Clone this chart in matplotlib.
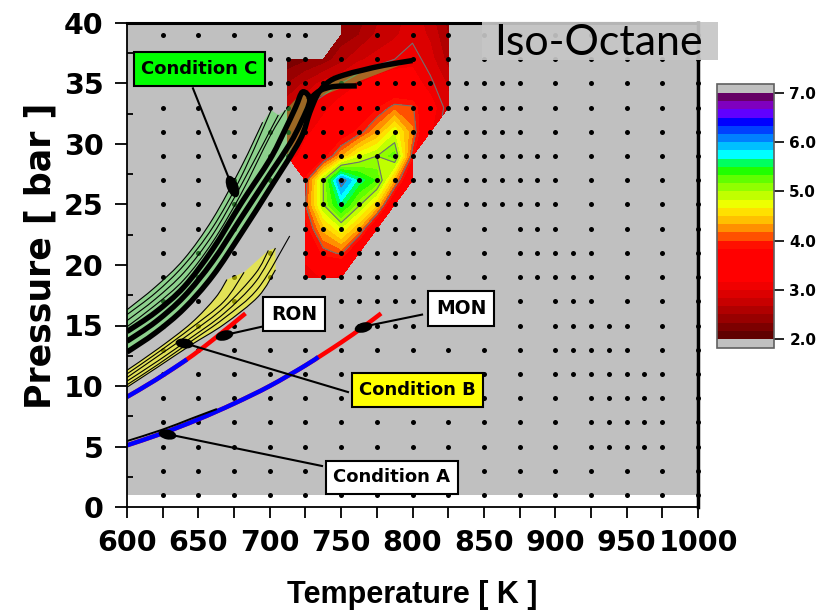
import numpy as np
import matplotlib
matplotlib.use("Agg")
import matplotlib.pyplot as plt
from matplotlib.colors import ListedColormap
from matplotlib.path import Path
from matplotlib.transforms import Affine2D
from matplotlib.patches import Rectangle, PathPatch
from matplotlib.ticker import MultipleLocator, FormatStrFormatter
from matplotlib.font_manager import FontProperties

nan = np.nan

# ---- ignition map (contour) ----
map_T = [712.5, 725, 737.5, 750, 762.5, 775, 787.5, 800, 812.5, 825]
map_P = [19, 21, 23, 25, 27, 29, 31, 33, 35, 37, 39, 41]
map_val = [
    [nan, 3.0, 3.2, 3.1, nan, nan, nan, nan, nan, nan],
    [nan, 3.3, 3.9, 4.05, 3.3, nan, nan, nan, nan, nan],
    [nan, 3.7, 4.4, 4.8, 4.3, 3.3, nan, nan, nan, nan],
    [nan, 4.0, 5.0, 5.6, 5.05, 4.5, 3.3, nan, nan, nan],
    [nan, 3.9, 5.0, 6.15, 5.6, 5.3, 4.3, 3.2, nan, nan],
    [3.0, 3.3, 3.7, 4.3, 4.8, 5.0, 5.25, 3.9, nan, nan],
    [2.9, 3.1, 3.3, 3.6, 3.9, 4.3, 4.8, 4.2, 3.2, nan],
    [2.8, 3.0, 3.1, 3.3, 3.5, 3.8, 4.1, 4.05, 3.3, 2.9],
    [2.5, 2.7, 2.9, 3.0, 3.15, 3.3, 3.4, 3.3, 3.05, 2.8],
    [2.2, 2.3, 2.4, 2.6, 2.8, 2.9, 3.0, 3.1, 2.9, 2.6],
    [nan, nan, nan, 2.4, 2.5, 2.7, 2.8, 2.95, 2.8, 2.5],
    [nan, nan, nan, 2.3, 2.4, 2.6, 2.7, 2.9, 2.7, 2.4],
]
levels = np.linspace(2.0, 7.0, 31)
level_colors = [
    "#600000", "#7c0000", "#980000", "#b00000", "#c80000", "#dc0000",
    "#f00000", "#ff0000", "#ff0000", "#ff0000", "#ff0000", "#ff1000",
    "#ff5000", "#ff9000", "#ffc000", "#ffe000", "#eeff00", "#c0ff00",
    "#90ff00", "#60ff00", "#20ff00", "#00ff60", "#00ffff", "#00c0ff",
    "#0080ff", "#0040ff", "#0000ff", "#6000ff", "#7f00bf", "#660066",
]

# ---- simulation grid points ----
LEFT = [625, 650, 675]
FINE_A = [700, 712.5, 725, 737.5, 750, 762.5, 775, 787.5, 800, 812.5, 825,
          837.5, 850, 862.5, 875, 900, 925, 950, 975, 1000]
FINE_B = [700, 712.5, 725, 737.5, 750, 762.5, 775, 787.5, 800, 812.5, 825,
          837.5, 850, 862.5, 875, 887.5, 900, 925, 950, 975, 1000]
COARSE_LOW = [700, 725, 750, 775, 800, 825, 850, 875, 900, 925, 937.5, 950,
              962.5, 975, 1000]
COARSE_BASE = [700, 725, 750, 775, 800, 825, 850, 875, 900, 925, 950, 975, 1000]
dot_rows = {
    39: LEFT + [700, 712.5, 725, 775, 800, 825, 850, 875, 900, 925, 950, 975, 1000],
    37: LEFT + [700, 712.5, 725, 750, 775, 800, 825, 850, 875, 900, 925, 950, 975, 1000],
    35: LEFT + FINE_A,
    33: LEFT + [700, 712.5, 737.5, 750, 762.5, 775, 800, 812.5, 825, 837.5, 850,
                862.5, 875, 900, 925, 950, 975, 1000],
    31: LEFT + FINE_A,
    29: LEFT + FINE_B,
    27: LEFT + FINE_B,
    25: LEFT + FINE_B,
    23: LEFT + [700, 725, 737.5, 750, 762.5, 775, 787.5, 800, 825, 850, 875,
                887.5, 900, 925, 950, 975, 1000],
    21: LEFT + [700, 725, 737.5, 750, 762.5, 775, 787.5, 800, 825, 850, 875,
                887.5, 900, 912.5, 925, 950, 975, 1000],
    19: LEFT + [700, 725, 737.5, 750, 762.5, 775, 787.5, 800, 825, 850, 875,
                887.5, 900, 912.5, 925, 950, 975, 1000],
    17: LEFT + [700, 712.5, 725, 737.5, 750, 762.5, 775, 787.5, 800, 875, 900,
                912.5, 925, 950, 975, 1000],
    15: LEFT + [700, 712.5, 725, 737.5, 750, 762.5, 775, 787.5, 800, 875, 900,
                912.5, 925, 937.5, 950, 975, 1000],
    13: LEFT + [700, 725, 750, 775, 800, 825, 850, 875, 900, 912.5, 925, 937.5,
                950, 975, 1000],
    11: LEFT + [700, 725, 750, 775, 800, 825, 850, 875, 900, 912.5, 925, 937.5,
                950, 962.5, 975, 1000],
    9: LEFT + COARSE_LOW,
    7: LEFT + COARSE_LOW,
    5: LEFT + COARSE_LOW,
    3: LEFT + COARSE_BASE,
    1: LEFT + COARSE_BASE,
}

# ---- Condition C (green band + thick traces) ----
gl1_T = [600, 620, 640, 660, 680, 695]
gl1_P = [16.3, 18.2, 20.5, 23.8, 28.1, 31.8]
gl2_T = [600, 620, 640, 660, 680, 701]
gl2_P = [15.9, 17.7, 20.0, 23.1, 27.3, 32.8]
gl3_T = [600, 620, 640, 660, 680, 706]
gl3_P = [15.4, 17.2, 19.4, 22.5, 26.6, 32.4]
gl4_T = [600, 620, 640, 660, 680, 700, 711]
gl4_P = [14.9, 16.7, 18.8, 21.9, 25.9, 30.6, 32.8]
tk1_T = [600, 620, 640, 660, 680, 700, 710, 718, 723]
tk1_P = [14.5, 16.1, 18.2, 21.3, 25.1, 28.7, 31.0, 33.0, 34.3]
tk2_T = [600, 620, 640, 660, 680, 700, 714, 722, 728]
tk2_P = [13.7, 15.3, 17.4, 20.3, 23.9, 27.5, 30.0, 31.8, 33.6]
tk3_T = [600, 620, 640, 660, 680, 700, 721, 728, 734, 742, 752, 765, 780, 800]
tk3_P = [12.8, 14.4, 16.4, 19.1, 22.6, 26.3, 30.3, 32.6, 34.2, 35.2, 35.7, 36.1, 36.5, 36.9]
seg_T = [727, 735, 745, 761]
seg_P = [33.6, 34.4, 34.75, 34.8]

# ---- Condition B (yellow band) ----
yl1_T = [600, 622, 645, 662, 670]
yl1_P = [11.3, 13.1, 15.2, 17.3, 18.8]
yl2_T = [600, 622, 645, 668, 682]
yl2_P = [11.0, 12.8, 14.8, 17.0, 19.4]
yl3_T = [600, 622, 645, 668, 690, 699]
yl3_P = [10.7, 12.5, 14.4, 16.5, 19.3, 21.2]
yl4_T = [600, 622, 645, 668, 690, 704]
yl4_P = [10.4, 12.1, 14.0, 16.0, 18.6, 21.4]
yl5_T = [600, 622, 645, 668, 692, 704]
yl5_P = [9.9, 11.6, 13.4, 15.1, 17.4, 19.6]
ylx_T = [600, 622, 645, 668, 692, 714]
ylx_P = [10.1, 11.8, 13.7, 15.6, 18.1, 22.4]

# ---- RON / MON compression lines ----
ron_T = [600, 620, 642, 660, 683]
ron_P = [9.1, 10.5, 12.2, 13.8, 16.0]
ron_blue_T = [600, 620, 642]
ron_blue_P = [9.1, 10.5, 12.2]
mon_T = [600, 625, 650, 675, 700, 725, 750, 765, 778]
mon_P = [5.1, 6.1, 7.25, 8.55, 10.0, 11.7, 13.6, 14.85, 16.0]
mon_blue_T = [600, 625, 650, 675, 700, 725, 734]
mon_blue_P = [5.1, 6.1, 7.25, 8.55, 10.0, 11.7, 12.4]
ca_T = [600, 625, 645, 663]
ca_P = [5.45, 6.4, 7.3, 8.1]

# ---- annotations ----
ann_text = ["Condition C", "RON", "MON", "Condition B", "Condition A"]
ann_box_T = [650.8, 717, 834, 803.5, 785.6]
ann_box_P = [36.2, 15.95, 16.4, 9.67, 2.44]
ann_pt_T = [673.6, 668, 765.3, 640, 628]
ann_pt_P = [26.5, 14.2, 14.9, 13.55, 6.03]
ann_end_T = [646.2, 705.8, 806.7, 754.8, 736.6]
ann_end_P = [34.6, 15.2, 15.9, 9.5, 3.39]
ann_face = ["#00ff00", "white", "white", "#ffff00", "white"]
ann_size = [13, 13.5, 13.5, 13, 13]
ann_angle = [112, 15, 15, -8, -12]

GRAY = "#c0c0c0"
GREEN = (80 / 255, 230 / 255, 80 / 255)


def smooth_segments(T, P):
    # Catmull-Rom through the read points, drawn as cubic Bezier pieces
    pts = np.column_stack([T, P]).astype(float)
    n = len(pts)
    verts, codes = [], []
    for i in range(n - 1):
        p0 = pts[max(i - 1, 0)]
        p1, p2 = pts[i], pts[i + 1]
        p3 = pts[min(i + 2, n - 1)]
        verts += [p1 + (p2 - p0) / 6, p2 - (p3 - p1) / 6, p2]
        codes += [Path.CURVE4] * 3
    return pts[0], verts, codes


def smooth_line(ax, T, P, **kw):
    start, verts, codes = smooth_segments(T, P)
    path = Path([start] + verts, [Path.MOVETO] + codes)
    ax.add_patch(PathPatch(path, fill=False, **kw))


def smooth_strip(ax, ta, pa, tb, pb, color, alpha):
    sa, va, ca = smooth_segments(ta, pa)
    sb, vb, cb_ = smooth_segments(tb[::-1], pb[::-1])
    verts = [sa] + va + [sb] + vb + [sa]
    codes = [Path.MOVETO] + ca + [Path.LINETO] + cb_ + [Path.CLOSEPOLY]
    ax.add_patch(PathPatch(Path(verts, codes), facecolor=color, alpha=alpha,
                           edgecolor="none", zorder=3))


fig = plt.figure(figsize=(8.29, 6.15), dpi=100, facecolor="white")
ax = fig.add_axes([127 / 829, 1 - 507 / 615, 571 / 829, 484 / 615])
ax.set_xlim(600, 1000)
ax.set_ylim(0, 40)
ax.axhspan(1, 40, color=GRAY, zorder=0, lw=0)

# contour map
cmap = ListedColormap(level_colors)
cmap.set_under(GRAY)
cmap.set_over(GRAY)
TT, PP = np.meshgrid(map_T, map_P)
Z = np.ma.masked_invalid(np.array(map_val))
cf = ax.contourf(TT, PP, Z, levels=levels, cmap=cmap, extend="both", zorder=1)
ax.contour(TT, PP, Z, levels=[3, 4, 5, 6], colors="#707070", linewidths=0.8, zorder=1.5)

# grid dots
for p, temps in dot_rows.items():
    ax.plot(temps, [p] * len(temps), "o", color="black", ms=3.6, mew=0,
            zorder=2, clip_on=False)

# Condition C band
green_lines = [(gl1_T, gl1_P), (gl2_T, gl2_P), (gl3_T, gl3_P), (gl4_T, gl4_P),
               (tk1_T, tk1_P), (tk2_T, tk2_P), (tk3_T, tk3_P)]
for (ta, pa), (tb, pb) in zip(green_lines[:-1], green_lines[1:]):
    smooth_strip(ax, ta, pa, tb, pb, GREEN, 0.45)
for t, p in green_lines[:4]:
    smooth_line(ax, t, p, edgecolor="black", lw=0.8, zorder=3.5)
smooth_line(ax, tk1_T + tk2_T[::-1], tk1_P + tk2_P[::-1], edgecolor="black",
            lw=3.9, capstyle="butt", zorder=4)
smooth_line(ax, tk3_T, tk3_P, edgecolor="black", lw=3.9, zorder=4)
smooth_line(ax, seg_T, seg_P, edgecolor="black", lw=3.9, capstyle="butt", zorder=4)

# Condition B band
yellow_lines = [(yl1_T, yl1_P), (yl2_T, yl2_P), (yl3_T, yl3_P), (yl4_T, yl4_P),
                (yl5_T, yl5_P)]
for (ta, pa), (tb, pb) in zip(yellow_lines[:-1], yellow_lines[1:]):
    smooth_strip(ax, ta, pa, tb, pb, "#ffff00", 0.55)
for t, p in yellow_lines + [(ylx_T, ylx_P)]:
    smooth_line(ax, t, p, edgecolor="black", lw=0.8, zorder=3.5)

# RON / MON lines
smooth_line(ax, ron_T, ron_P, edgecolor="#ff0000", lw=3.2, capstyle="butt", zorder=4)
smooth_line(ax, ron_blue_T, ron_blue_P, edgecolor="#0000ff", lw=3.2, capstyle="butt", zorder=4.1)
smooth_line(ax, mon_T, mon_P, edgecolor="#ff0000", lw=3.2, capstyle="butt", zorder=4)
smooth_line(ax, mon_blue_T, mon_blue_P, edgecolor="#0000ff", lw=3.2, capstyle="butt", zorder=4.1)
smooth_line(ax, ca_T, ca_P, edgecolor="black", lw=1.4, zorder=4.2)

# annotations
for i, label in enumerate(ann_text):
    ax.plot([ann_pt_T[i], ann_end_T[i]], [ann_pt_P[i], ann_end_P[i]],
            color="black", lw=1.5, zorder=5)
    aspect = 0.5 if i == 0 else 0.55
    marker = Path.unit_circle().transformed(
        Affine2D().scale(1, aspect).rotate_deg(ann_angle[i]))
    ax.plot(ann_pt_T[i], ann_pt_P[i], marker=marker, ms=16 if i == 0 else 13,
            color="black", mew=0, zorder=5)
    ax.text(ann_box_T[i], ann_box_P[i], label, ha="center", va="center",
            fontsize=ann_size[i], fontweight="bold", family="DejaVu Sans", zorder=6,
            bbox=dict(boxstyle="square,pad=0.42", facecolor=ann_face[i],
                      edgecolor="black", lw=1.5))

# axes styling
ax.xaxis.set_major_locator(MultipleLocator(50))
ax.xaxis.set_minor_locator(MultipleLocator(25))
ax.yaxis.set_major_locator(MultipleLocator(5))
ax.yaxis.set_minor_locator(MultipleLocator(2.5))
ax.tick_params(axis="x", which="major", direction="out", length=8, width=1.3, pad=8)
ax.tick_params(axis="y", which="major", direction="out", length=9, width=1.3, pad=8)
ax.tick_params(axis="x", which="minor", direction="out", length=8, width=1.3)
ax.tick_params(axis="y", which="minor", direction="in", length=4, width=1.3)
tick_fp = FontProperties(family="DejaVu Sans", weight="bold", size=20.5)
for lab in ax.get_xticklabels() + ax.get_yticklabels():
    lab.set_fontproperties(tick_fp)
for side, w in [("left", 1.3), ("bottom", 1.3), ("top", 2.2), ("right", 2.5)]:
    ax.spines[side].set_linewidth(w)
    ax.spines[side].set_zorder(7)

ax.set_xlabel("Temperature [ K ]", va="center", family="Liberation Sans",
              weight="bold", size=22)
ax.set_ylabel("Pressure [ bar ]", va="center", family="DejaVu Sans",
              weight="bold", size=25)
ax.xaxis.set_label_coords(0.5, -0.182)
ax.yaxis.set_label_coords(-0.152, 0.52)

# colorbar
cax = fig.add_axes([717 / 829, 1 - 348 / 615, 57 / 829, 264 / 615])
cb = fig.colorbar(cf, cax=cax, ticks=[2, 3, 4, 5, 6, 7], extendrect=True,
                  extendfrac=0.037)
cb.outline.set_edgecolor("#606060")
cb.outline.set_linewidth(1.2)
cb.ax.minorticks_off()
cb.ax.yaxis.set_major_formatter(FormatStrFormatter("%.1f"))
cb.ax.tick_params(direction="out", length=7, width=1.2, pad=4)
cb_fp = FontProperties(family="DejaVu Sans", weight="bold", size=11)
for lab in cb.ax.get_yticklabels():
    lab.set_fontproperties(cb_fp)

# title box
fig.add_artist(Rectangle((482 / 829, 1 - 60 / 615), 236 / 829, 38 / 615,
                         transform=fig.transFigure, facecolor="#c6c6c6",
                         edgecolor="none", alpha=0.92, zorder=10))
fig.text(0.7214, 0.930, "Iso-Octane", ha="center", va="center", fontsize=31,
         family="Lato", color="black", zorder=11)

fig.savefig("out.png", dpi=100)
